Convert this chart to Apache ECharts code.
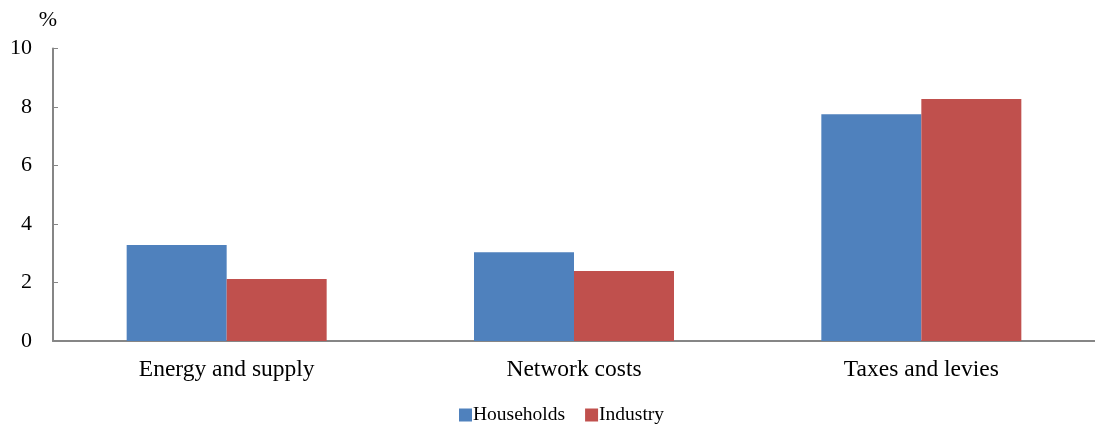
<!DOCTYPE html>
<html>
<head>
<meta charset="utf-8">
<script src="https://cdn.jsdelivr.net/npm/echarts@6/dist/echarts.min.js"></script>
<style>
  html, body { margin: 0; padding: 0; background: #fff; }
  #chart { width: 1095px; height: 428px; }
</style>
</head>
<body>
<div id="chart"></div>
<script>
const categories = ["Energy and supply", "Network costs", "Taxes and levies"];
const households = [3.28, 3.03, 7.75];
const industry = [2.12, 2.39, 8.27];
const yTicks = { min: 0, max: 10, interval: 2 };

const axisColor = "#868686";
const font = "Liberation Serif, Times New Roman, serif";

const chart = echarts.init(document.getElementById("chart"));
chart.setOption({
  animation: false,
  textStyle: { fontFamily: font, color: "#000" },
  grid: { left: 53, top: 48.5, width: 1047, bottom: 87, containLabel: false },
  legend: {
    left: 454,
    top: 400,
    itemWidth: 13,
    itemHeight: 13,
    itemGap: 20,
    icon: "rect",
    textStyle: { fontFamily: font, fontSize: 19.5, color: "#000", padding: [0, 0, 0, -4] },
    data: ["Households", "Industry"],
  },
  xAxis: {
    type: "category",
    data: categories,
    axisLine: { lineStyle: { color: axisColor, width: 2 } },
    axisTick: { inside: true, length: 6, lineStyle: { color: axisColor, width: 1 } },
    axisLabel: { fontFamily: font, fontSize: 23.5, color: "#000", margin: 17 },
  },
  yAxis: {
    type: "value",
    min: yTicks.min,
    max: yTicks.max,
    interval: yTicks.interval,
    name: "%",
    nameLocation: "end",
    nameGap: 17,
    nameTextStyle: { fontFamily: font, fontSize: 22, color: "#000", align: "right", padding: [0, -4, 0, 0] },
    axisLine: { show: true, lineStyle: { color: axisColor, width: 2 } },
    axisTick: { show: true, inside: true, length: 5, lineStyle: { color: axisColor, width: 1 } },
    axisLabel: { fontFamily: font, fontSize: 22, color: "#000", margin: 21 },
    splitLine: { show: false },
  },
  series: [
    {
      name: "Households",
      type: "bar",
      data: households,
      barWidth: 100,
      barGap: "0%",
      itemStyle: { color: "#4F81BD" },
    },
    {
      name: "Industry",
      type: "bar",
      data: industry,
      barWidth: 100,
      barGap: "0%",
      itemStyle: { color: "#C0504D" },
    },
  ],
});
</script>
</body>
</html>
